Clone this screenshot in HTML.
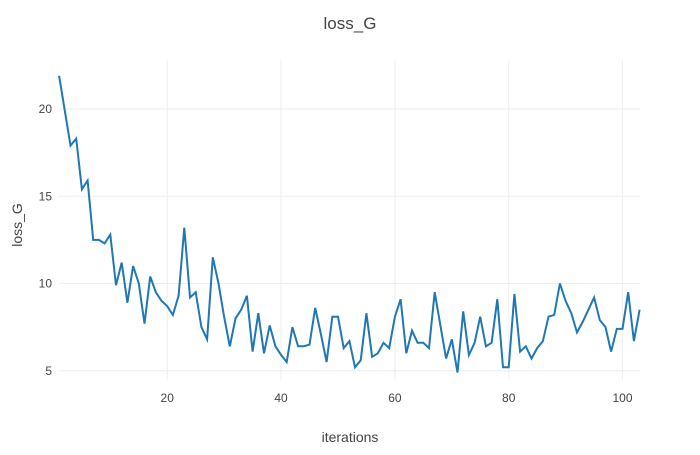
<!DOCTYPE html>
<html><head><meta charset="utf-8"><style>
body{margin:0;background:#fff;font-family:"Liberation Sans",sans-serif;}
svg text{font-family:"Liberation Sans",sans-serif;fill:#444;}
</style></head><body>
<svg id="chart" width="700" height="450" xmlns="http://www.w3.org/2000/svg">
<text x="350" y="29" text-anchor="middle" font-size="17">loss_G</text>
<g id="grid"></g><g id="ticks"></g>
<text x="350" y="442" text-anchor="middle" font-size="14">iterations</text>
<text transform="translate(22,225) rotate(-90)" text-anchor="middle" font-size="14">loss_G</text>
<path id="line" fill="none" stroke="#1f77b4" stroke-width="2"/>
</svg>
<script>
const lossValues=[21.9,19.9,17.9,18.3,15.4,15.9,12.5,12.5,12.3,12.8,9.9,11.2,8.9,11.0,10.0,7.7,10.4,9.5,9.0,8.7,8.2,9.3,13.2,9.2,9.5,7.5,6.8,11.5,10.0,8.1,6.4,8.0,8.5,9.3,6.1,8.3,6.0,7.6,6.4,5.9,5.5,7.5,6.4,6.4,6.5,8.6,7.1,5.5,8.1,8.1,6.3,6.7,5.2,5.6,8.3,5.8,6.0,6.6,6.3,8.1,9.1,6.0,7.3,6.6,6.6,6.3,9.5,7.6,5.7,6.8,4.9,8.4,5.9,6.6,8.1,6.4,6.6,9.1,5.2,5.2,9.4,6.1,6.4,5.7,6.3,6.7,8.1,8.2,10.0,9.0,8.3,7.2,7.8,8.5,9.2,7.9,7.5,6.1,7.4,7.4,9.5,6.7,8.5];
const xTicks=[20,40,60,80,100];
const yTicks=[5,10,15,20];
const X=v=>59.1+(v-1)*(639.6-59.1)/102;
const Y=v=>109-(v-20)*17.45;
const ns="http://www.w3.org/2000/svg";
const grid=document.getElementById('grid'),ticks=document.getElementById('ticks');
function mk(tag,attrs,parent){const e=document.createElementNS(ns,tag);for(const k in attrs)e.setAttribute(k,attrs[k]);parent.appendChild(e);return e;}
xTicks.forEach(t=>{
 const l=mk('line',{x1:X(t),x2:X(t),y1:60,y2:380,stroke:'#eee','stroke-width':1},grid);
 
 
 const tx=mk('text',{x:X(t),y:402,'text-anchor':'middle','font-size':12},ticks);tx.textContent=t;
 
 
});
yTicks.forEach(t=>{
 const l=mk('line',{x1:59,x2:640,y1:Y(t),y2:Y(t),stroke:'#eee','stroke-width':1},grid);
 
 
 const tx=mk('text',{x:52,y:Y(t)+4,'text-anchor':'end','font-size':12},ticks);tx.textContent=t;
 
 
});
document.getElementById('line').setAttribute('d',lossValues.map((v,i)=>(i?'L':'M')+X(i+1).toFixed(1)+','+Y(v).toFixed(1)).join(''));
</script>
</body></html>
